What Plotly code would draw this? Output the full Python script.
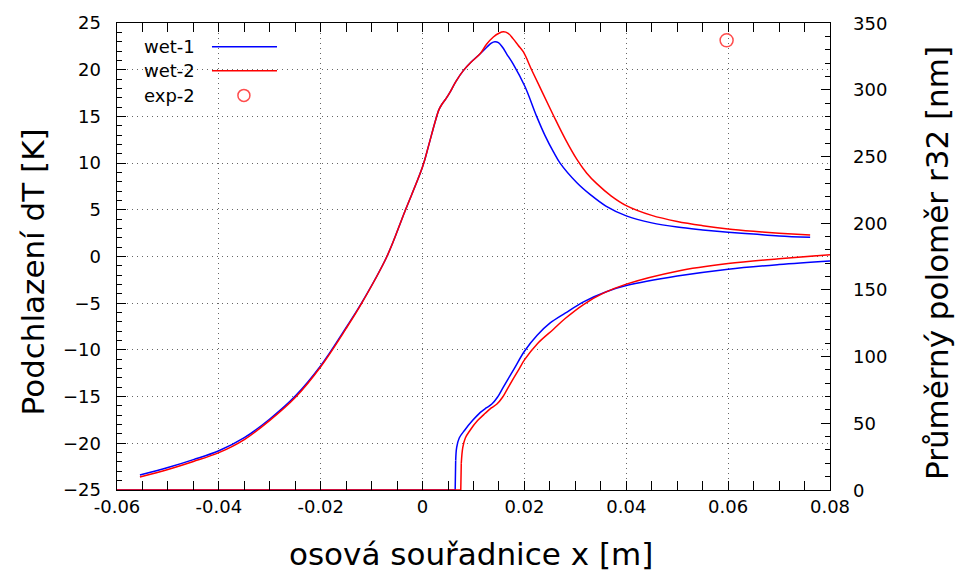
import plotly.graph_objects as go

# ---------------- data ----------------
# Subcooling dT [K] (left axis)
wet1_dT_x = [-0.0555, -0.05, -0.045, -0.04, -0.035, -0.03, -0.025, -0.02, -0.015, -0.012, -0.007,
             -0.0035, 0.0, 0.0012, 0.0024, 0.0032, 0.0038, 0.0046, 0.0054, 0.0065, 0.008, 0.0095,
             0.0113, 0.0126, 0.0135, 0.0142, 0.0149, 0.0157, 0.0165, 0.0178, 0.0201, 0.0224, 0.024,
             0.0257, 0.027, 0.0303, 0.033, 0.036, 0.040, 0.045, 0.050, 0.055, 0.060, 0.065, 0.070,
             0.0761]
wet1_dT_y = [-23.4, -22.6, -21.75, -20.8, -19.4, -17.4, -14.95, -11.7, -7.6, -5.0, 0.0,
             4.8, 9.6, 11.9, 14.3, 15.7, 16.3, 16.9, 17.6, 18.7, 19.9, 20.8,
             21.7, 22.4, 22.85, 23.0, 22.9, 22.4, 21.7, 20.6, 18.2, 15.0, 13.0,
             11.2, 10.0, 7.9, 6.6, 5.4, 4.35, 3.6, 3.15, 2.85, 2.6, 2.4, 2.2,
             2.05]

wet2_dT_x = [-0.0555, -0.05, -0.045, -0.04, -0.035, -0.03, -0.025, -0.02, -0.015, -0.012, -0.007,
             -0.0035, 0.0, 0.0012, 0.0024, 0.0032, 0.0038, 0.0046, 0.0054, 0.0065, 0.008, 0.0095,
             0.0113, 0.0126, 0.0139, 0.015, 0.0159, 0.0168, 0.0178, 0.0188, 0.0198, 0.0214, 0.0235,
             0.0257, 0.028, 0.0303, 0.0322, 0.0342, 0.037, 0.040, 0.045, 0.050, 0.055, 0.060, 0.065,
             0.070, 0.0761]
wet2_dT_y = [-23.6, -22.8, -21.95, -21.0, -19.6, -17.55, -15.1, -11.8, -7.7, -5.05, 0.0,
             4.8, 9.6, 11.9, 14.3, 15.7, 16.3, 16.9, 17.6, 18.7, 19.9, 20.8,
             21.7, 22.75, 23.5, 23.9, 24.05, 23.9, 23.3, 22.6, 21.9, 20.0, 17.6,
             15.1, 12.6, 10.4, 8.95, 7.8, 6.5, 5.45, 4.4, 3.75, 3.3, 2.95, 2.7,
             2.5, 2.3]

# Mean radius r32 [nm] (right axis); first 3 points: zero run + jump
wet1_r_x = [-0.06, 0.0064, 0.0065, 0.0067, 0.0072, 0.0083, 0.0098, 0.0113, 0.0125, 0.0136, 0.0147,
            0.0158, 0.018, 0.020, 0.0225, 0.025, 0.028, 0.0316, 0.0362, 0.040, 0.05, 0.06, 0.07,
            0.08]
wet1_r_y = [0, 0, 22, 32, 39, 45, 52, 58, 61.5, 64.4, 69.5,
            76.8, 91, 104, 116, 125, 132.5, 141, 148.8, 153.2, 160.3, 165.5, 169,
            171.7]

wet2_r_x = [-0.06, 0.0075, 0.0076, 0.0079, 0.0084, 0.0093, 0.0108, 0.0123, 0.0135, 0.0146, 0.0157,
            0.0168, 0.019, 0.020, 0.0225, 0.0257, 0.028, 0.0316, 0.0355, 0.040, 0.05, 0.06,
            0.07, 0.08]
wet2_r_y = [0, 0, 20, 32, 39, 44.6, 52, 57.5, 61.5, 64.4, 69.5,
            76.8, 91, 97.5, 109.5, 120.5, 128.5, 139, 147.5, 154.3, 164, 169.7,
            173.3, 176.4]

exp2_x = [0.0597]
exp2_r = [337]

y2_ticks = [0, 50, 100, 150, 200, 250, 300, 350]
y2_ticktext = ["0", "50", "100", "150", "200", "250", "300", "350"]

BLUE = "#0000ff"
RED = "#ff0000"
FONT = "DejaVu Sans"
NB = "\u00a0"

fig = go.Figure()
spl = dict(shape="spline", smoothing=1.0)
for rx, ry, col, nm in [(wet1_r_x, wet1_r_y, BLUE, "wet-1 r32"), (wet2_r_x, wet2_r_y, RED, "wet-2 r32")]:
    # zero run and vertical jump drawn straight, the rest smoothed
    fig.add_trace(go.Scatter(x=rx[:3], y=ry[:3], yaxis="y2", mode="lines",
                             line=dict(color=col, width=1.5), name=nm))
    fig.add_trace(go.Scatter(x=rx[2:], y=ry[2:], yaxis="y2", mode="lines",
                             line=dict(color=col, width=1.5, **spl), name=nm))
fig.add_trace(go.Scatter(x=wet1_dT_x, y=wet1_dT_y, mode="lines",
                         line=dict(color=BLUE, width=1.5, **spl), name="wet-1"))
fig.add_trace(go.Scatter(x=wet2_dT_x, y=wet2_dT_y, mode="lines",
                         line=dict(color=RED, width=1.5, **spl), name="wet-2"))
fig.add_trace(go.Scatter(x=exp2_x, y=exp2_r, yaxis="y2", mode="markers",
                         marker=dict(symbol="circle-open", size=13, color="#ff4d4d",
                                     line=dict(width=1.5, color="#ff4d4d")), name="exp-2"))

grid = dict(showgrid=True, gridcolor="rgba(0,0,0,0.6)", griddash="1px,4px", gridwidth=1)
tickfont = dict(family=FONT, size=18, color="black")
minus_alias = {"−" + s: "-" + s for s in
               ["0.06", "0.04", "0.02", "25", "20", "15", "10", "5"]}

fig.update_layout(
    width=961, height=582,
    margin=dict(l=117, r=131, t=19, b=92),
    paper_bgcolor="white", plot_bgcolor="white",
    showlegend=False,
    font=dict(family=FONT, color="black"),
    xaxis=dict(range=[-0.06, 0.08], tickmode="linear", tick0=-0.06, dtick=0.02,
               labelalias=minus_alias,
               ticks="inside", ticklen=9, tickcolor="black", tickwidth=1,
               showline=True, linecolor="black", linewidth=1, mirror="allticks",
               zeroline=False, tickfont=tickfont,
               minor=dict(dtick=0.005, ticks="inside", ticklen=5,
                          tickcolor="black", showgrid=False),
               **grid),
    yaxis=dict(range=[-25, 25], tickmode="linear", tick0=-25, dtick=5,
               labelalias=minus_alias, ticksuffix=NB * 2,
               ticks="inside", ticklen=9, tickcolor="black", tickwidth=1,
               showline=True, linecolor="black", linewidth=1, mirror=True,
               zeroline=False, tickfont=tickfont,
               minor=dict(dtick=1, ticks="inside", ticklen=5,
                          tickcolor="black", showgrid=False),
               **grid),
    yaxis2=dict(range=[0, 350], overlaying="y", side="right", tickmode="array",
                tickvals=y2_ticks, showticklabels=False,
                ticks="inside", ticklen=9, tickcolor="black", tickwidth=1,
                showline=True, linecolor="black", linewidth=1,
                showgrid=False, zeroline=False,
                minor=dict(tickmode="linear", tick0=0, dtick=10, ticks="inside", ticklen=5,
                           tickcolor="black", showgrid=False)),
)

# right-axis tick labels (placed 22 px right of the axis, as in the reference)
for v, t in zip(y2_ticks, y2_ticktext):
    fig.add_annotation(text=t, xref="paper", yref="y2", x=1.0, y=v, xshift=21,
                       xanchor="left", yanchor="middle", showarrow=False,
                       font=tickfont)

# axis titles
fig.add_annotation(text="osová souřadnice x [m]", xref="paper", yref="paper",
                   x=0.497, y=-0.138, xanchor="center", yanchor="middle", showarrow=False,
                   font=dict(family=FONT, size=31, color="black"))
fig.add_annotation(text="Podchlazení dT [K]", xref="paper", yref="paper",
                   x=-0.1185, y=0.467, xanchor="center", yanchor="middle", textangle=-90,
                   showarrow=False, font=dict(family=FONT, size=31, color="black"))
fig.add_annotation(text="Průměrný poloměr r32 [nm]", xref="paper", yref="paper",
                   x=1.150, y=0.486, xanchor="center", yanchor="middle", textangle=-90,
                   showarrow=False, font=dict(family=FONT, size=31, color="black"))

# manual legend (gnuplot style: label then sample)
legend_items = [("wet-1", BLUE, "line", 0.949), ("wet-2", RED, "line", 0.898),
                ("exp-2", "#ff4d4d", "circle", 0.845)]
for label, col, kind, yy in legend_items:
    fig.add_annotation(text=label, xref="paper", yref="paper", x=0.1122, y=yy,
                       xanchor="right", yanchor="middle", showarrow=False,
                       font=dict(family=FONT, size=18, color="black"))
    if kind == "line":
        fig.add_shape(type="line", xref="paper", yref="paper", x0=0.1332, x1=0.2244,
                      y0=yy, y1=yy, line=dict(color=col, width=1.5))
    else:
        fig.add_shape(type="circle", xref="paper", yref="paper",
                      xsizemode="pixel", ysizemode="pixel",
                      xanchor=0.178, yanchor=yy, x0=-6, x1=6, y0=-6, y1=6,
                      line=dict(color=col, width=1.5))

fig.write_html("out.html")
